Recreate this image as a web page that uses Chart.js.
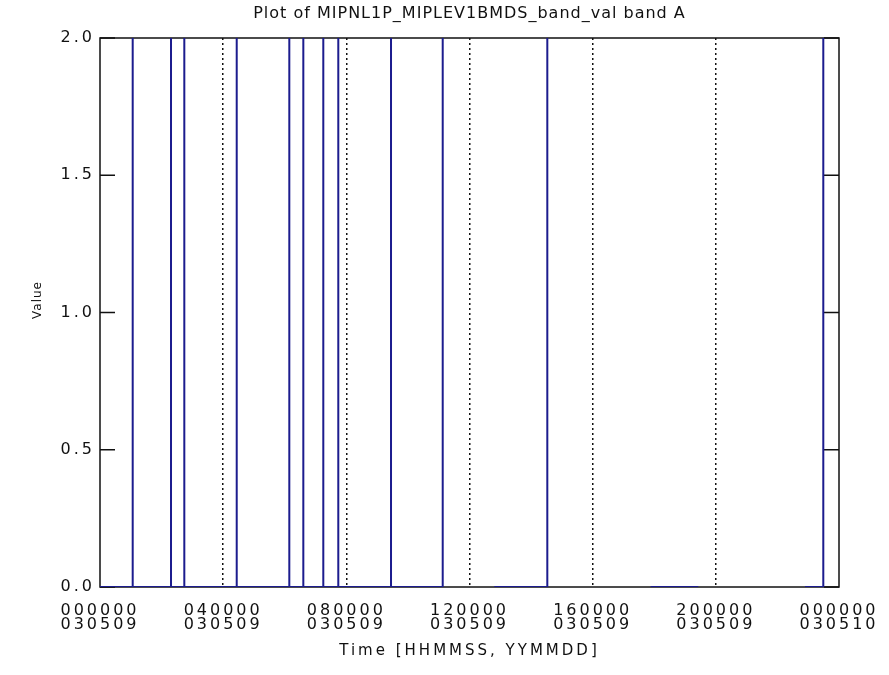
<!DOCTYPE html>
<html>
<head>
<meta charset="utf-8">
<script src="https://cdn.jsdelivr.net/npm/chart.js@4/dist/chart.umd.min.js"></script>
<style>
  html, body { margin: 0; padding: 0; background: #ffffff; }
  #wrap { width: 889px; height: 675px; position: relative; }
</style>
</head>
<body>
<div id="wrap"><canvas id="c" width="889" height="675"></canvas></div>
<script>
// ---- data (time in seconds since 2003-05-09 00:00:00) ----
const chartTitle = 'Plot of MIPNL1P_MIPLEV1BMDS_band_val band A';
const xAxisTitle = 'Time [HHMMSS, YYMMDD]';
const yAxisTitle = 'Value';

const sampleTimes = [
  0,
  3823, 3823, 3823,
  8302, 8302, 8302,
  9857, 9857, 9857,
  15984, 15984, 15984,
  22133, 22133, 22133,
  23771, 23771, 23771,
  26107, 26107, 26107,
  27860, 27860, 27860,
  34024, 34024, 34024,
  40068, 40068,
  43000,
  46102, 52297, 52297,
  58000,
  64379, 69948,
  76000,
  82426, 84564, 84564
];
const sampleValues = [
  0,
  0, 2, 0,
  0, 2, 0,
  0, 2, 0,
  0, 2, 0,
  0, 2, 0,
  0, 2, 0,
  0, 2, 0,
  0, 2, 0,
  0, 2, 0,
  0, 2,
  null,
  0, 0, 2,
  null,
  0, 0,
  null,
  0, 0, 2
];

const xTickValues = [0, 14400, 28800, 43200, 57600, 72000, 86400];
const xTickTimeLabels = ['000000', '040000', '080000', '120000', '160000', '200000', '000000'];
const xTickDateLabels = ['030509', '030509', '030509', '030509', '030509', '030509', '030510'];
const yTickValues = [0.0, 0.5, 1.0, 1.5, 2.0];

const points = sampleTimes.map((t, i) => ({ x: t, y: sampleValues[i] }));

const FONT = "'DejaVu Sans', 'Liberation Sans', sans-serif";

const framePlugin = {
  id: 'frame',
  beforeDraw(chart) {
    chart.ctx.letterSpacing = '3px';
  },
  beforeDatasetsDraw(chart) {
    const { ctx, chartArea: a } = chart;
    const ys = chart.scales.y;
    ctx.save();
    ctx.strokeStyle = '#111111';
    ctx.lineWidth = 1.5;
    ctx.setLineDash([]);
    ctx.strokeRect(a.left, a.top, a.right - a.left, a.bottom - a.top);
    ctx.beginPath();
    yTickValues.forEach(v => {
      const py = ys.getPixelForValue(v);
      ctx.moveTo(a.left, py); ctx.lineTo(a.left + 15, py);
      ctx.moveTo(a.right, py); ctx.lineTo(a.right - 15, py);
    });
    ctx.stroke();
    ctx.restore();
  },
  afterDraw(chart) {
    const { ctx, chartArea: a } = chart;
    ctx.save();
    ctx.fillStyle = '#111111';
    ctx.textAlign = 'center';
    ctx.textBaseline = 'middle';
    // main title, centred over the plot area
    ctx.letterSpacing = '1px';
    ctx.font = "16px " + FONT;
    ctx.fillText(chartTitle, (a.left + a.right) / 2, 14);
    // y axis title
    ctx.letterSpacing = '1px';
    ctx.font = "12px " + FONT;
    ctx.translate(38, 300);
    ctx.rotate(-Math.PI / 2);
    ctx.fillText(yAxisTitle, 0, 0);
    ctx.restore();
  }
};

new Chart(document.getElementById('c'), {
  type: 'line',
  data: {
    datasets: [{
      data: points,
      borderColor: '#1c1c8e',
      borderWidth: 2,
      pointRadius: 0,
      fill: false,
      tension: 0,
      spanGaps: false
    }]
  },
  options: {
    responsive: false,
    animation: false,
    devicePixelRatio: 1,
    layout: { padding: { left: 0, right: 50, top: 38, bottom: 0 } },
    plugins: {
      legend: { display: false },
      tooltip: { enabled: false },
      title: { display: false }
    },
    scales: {
      x: {
        type: 'linear',
        min: 0,
        max: 86400,
        afterBuildTicks(scale) {
          scale.ticks = xTickValues.map(v => ({ value: v }));
        },
        afterFit(scale) { scale.height = 88; },
        ticks: {
          autoSkip: false,
          maxRotation: 0,
          color: '#111111',
          padding: 17,
          font: { family: FONT, size: 16, lineHeight: 0.875 },
          callback(value) {
            const i = xTickValues.indexOf(value);
            return i >= 0 ? [xTickTimeLabels[i], xTickDateLabels[i]] : '';
          }
        },
        grid: {
          drawTicks: false,
          drawOnChartArea: true,
          lineWidth: 1.5,
          color(ctx) {
            const v = ctx.tick && ctx.tick.value;
            return (v === 0 || v === 86400) ? 'rgba(0,0,0,0)' : '#111111';
          },
          borderDash: [2, 3]
        },
        border: { display: false, dash: [2, 3] },
        title: {
          display: true,
          text: xAxisTitle,
          color: '#111111',
          font: { family: FONT, size: 15, lineHeight: 1.2 },
          padding: { top: 0, bottom: 15 }
        }
      },
      y: {
        type: 'linear',
        min: 0,
        max: 2,
        afterBuildTicks(scale) {
          scale.ticks = yTickValues.map(v => ({ value: v }));
        },
        afterFit(scale) { scale.width = 100; },
        ticks: {
          color: '#111111',
          padding: 5,
          font: { family: FONT, size: 16 },
          callback(value) { return Number(value).toFixed(1); }
        },
        grid: { display: false, drawTicks: false },
        border: { display: false },
        title: { display: false }
      }
    }
  },
  plugins: [framePlugin]
});
</script>
</body>
</html>
